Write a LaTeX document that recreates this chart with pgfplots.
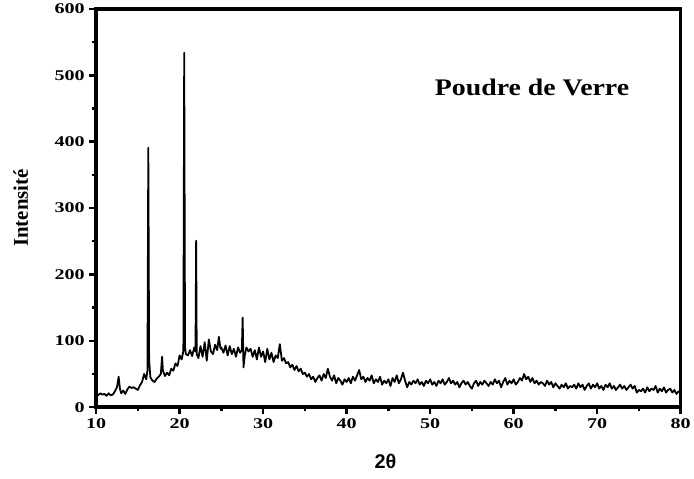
\documentclass[border=0pt]{standalone}
\usepackage{fontspec}
\setmainfont{Liberation Serif}
\newfontfamily\labelsans{Liberation Sans}
\usepackage{graphicx}
\usepackage{pgfplots}
\pgfplotsset{compat=1.18}

\begin{document}
\begin{tikzpicture}
\begin{axis}[
    scale only axis,
    width=590pt,
    height=402pt,
    xmin=10, xmax=80,
    ymin=0, ymax=600,
    xtick={10,20,...,80},
    ytick={0,100,...,600},
    minor x tick num=1,
    minor y tick num=1,
    tick align=outside,
    xtick pos=left,
    ytick pos=left,
    major tick length=7pt,
    minor tick length=4pt,
    every tick/.style={black, line width=2.5pt},
    axis line style={line width=3.5pt},
    /pgf/number format/assume math mode=true,
    xticklabel={\scalebox{1.35}[1]{\fontsize{15}{17}\selectfont\bfseries\pgfmathprintnumber{\tick}}},
    yticklabel={\scalebox{1.35}[1]{\fontsize{15}{17}\selectfont\bfseries\pgfmathprintnumber{\tick}}},
    xticklabel style={yshift=-1pt},
    yticklabel style={xshift=-1pt},
    xlabel={\labelsans\fontsize{20}{22}\selectfont\bfseries 2θ},
    xlabel style={at={(axis description cs:0.495,0)}, anchor=center, yshift=-55pt},
    ylabel={\fontsize{21}{23}\selectfont\bfseries Intensité},
    ylabel style={at={([xshift=-76pt]axis description cs:0,0.5)}, anchor=center},
]
\addplot[black, line width=1.8pt, line join=round] coordinates {
(10.00,22) (10.25,18) (10.50,21) (10.75,19) (11.00,20) (11.25,17) (11.50,21) (11.75,18)
(12.00,19) (12.25,24) (12.50,30) (12.70,46) (12.85,28) (13.00,21) (13.25,25) (13.50,20)
(13.75,27) (14.00,31) (14.25,29) (14.50,30) (14.75,28) (15.00,26) (15.25,33) (15.50,38)
(15.75,50) (16.00,42) (16.15,55) (16.25,391) (16.35,70) (16.50,45) (16.75,40) (17.00,38)
(17.25,43) (17.50,46) (17.75,50) (17.90,76) (18.00,55) (18.25,47) (18.50,52) (18.75,48)
(19.00,58) (19.25,55) (19.50,66) (19.75,62) (20.00,78) (20.25,72) (20.45,85) (20.55,534)
(20.65,90) (20.75,80) (21.00,78) (21.25,86) (21.50,77) (21.75,90) (21.90,84) (21.98,251)
(22.05,80) (22.25,74) (22.50,92) (22.75,76) (23.00,98) (23.25,70) (23.50,102) (23.75,84)
(24.00,80) (24.25,94) (24.50,86) (24.70,106) (24.90,88) (25.00,90) (25.25,82) (25.50,93)
(25.75,78) (26.00,92) (26.25,80) (26.50,88) (26.75,76) (27.00,90) (27.25,82) (27.45,86)
(27.55,135) (27.65,60) (27.80,78) (28.00,90) (28.25,84) (28.50,88) (28.75,76) (29.00,86)
(29.25,72) (29.50,90) (29.75,76) (30.00,84) (30.25,68) (30.50,88) (30.75,72) (31.00,82)
(31.25,68) (31.50,78) (31.75,74) (32.00,95) (32.25,70) (32.50,74) (32.75,66) (33.00,68)
(33.25,60) (33.50,64) (33.75,56) (34.00,62) (34.25,54) (34.50,58) (34.75,50) (35.00,52)
(35.25,46) (35.50,50) (35.75,42) (36.00,46) (36.25,38) (36.50,44) (36.75,48) (37.00,40)
(37.25,50) (37.50,44) (37.75,58) (38.00,46) (38.25,40) (38.50,48) (38.75,36) (39.00,44)
(39.25,40) (39.50,34) (39.75,42) (40.00,38) (40.25,44) (40.50,36) (40.75,46) (41.00,40)
(41.25,48) (41.50,56) (41.75,42) (42.00,46) (42.25,38) (42.50,44) (42.75,40) (43.00,48)
(43.25,36) (43.50,42) (43.75,38) (44.00,46) (44.25,34) (44.50,40) (44.75,36) (45.00,42)
(45.25,32) (45.50,44) (45.75,38) (46.00,48) (46.25,36) (46.50,42) (46.75,52) (47.00,40)
(47.25,30) (47.50,38) (47.75,34) (48.00,40) (48.25,36) (48.50,42) (48.75,34) (49.00,38)
(49.25,32) (49.50,40) (49.75,36) (50.00,42) (50.25,34) (50.50,38) (50.75,32) (51.00,40)
(51.25,36) (51.50,42) (51.75,34) (52.00,38) (52.25,44) (52.50,36) (52.75,40) (53.00,34)
(53.25,38) (53.50,30) (53.75,36) (54.00,40) (54.25,34) (54.50,38) (54.75,32) (55.00,28)
(55.25,36) (55.50,40) (55.75,32) (56.00,38) (56.25,34) (56.50,40) (56.75,36) (57.00,32)
(57.25,38) (57.50,34) (57.75,42) (58.00,36) (58.25,40) (58.50,30) (58.75,38) (59.00,44)
(59.25,34) (59.50,40) (59.75,36) (60.00,42) (60.25,34) (60.50,38) (60.75,44) (61.00,40)
(61.25,50) (61.50,42) (61.75,46) (62.00,38) (62.25,44) (62.50,36) (62.75,40) (63.00,34)
(63.25,38) (63.50,36) (63.75,32) (64.00,40) (64.25,34) (64.50,38) (64.75,30) (65.00,36)
(65.25,32) (65.50,28) (65.75,34) (66.00,30) (66.25,36) (66.50,28) (66.75,32) (67.00,30)
(67.25,34) (67.50,28) (67.75,36) (68.00,30) (68.25,34) (68.50,26) (68.75,32) (69.00,36)
(69.25,28) (69.50,34) (69.75,30) (70.00,36) (70.25,28) (70.50,32) (70.75,26) (71.00,34)
(71.25,30) (71.50,36) (71.75,28) (72.00,32) (72.25,26) (72.50,30) (72.75,34) (73.00,28)
(73.25,32) (73.50,26) (73.75,30) (74.00,34) (74.25,28) (74.50,32) (74.75,22) (75.00,26)
(75.25,24) (75.50,28) (75.75,22) (76.00,30) (76.25,24) (76.50,28) (76.75,26) (77.00,32)
(77.25,22) (77.50,28) (77.75,24) (78.00,30) (78.25,22) (78.50,26) (78.75,28) (79.00,22)
(79.25,26) (79.50,20) (79.75,24) (80.00,22)
};
\node[font=\fontsize{24}{27}\selectfont\bfseries] at (axis cs:62.2,482) {\scalebox{1.17}[1]{Poudre de Verre}};
\coordinate (bl) at (rel axis cs:0,0);
\coordinate (tr) at (rel axis cs:1,1);
\end{axis}
\path (bl) ++(-97pt,-72pt) (tr) ++(7pt,9pt);
\end{tikzpicture}
\end{document}
